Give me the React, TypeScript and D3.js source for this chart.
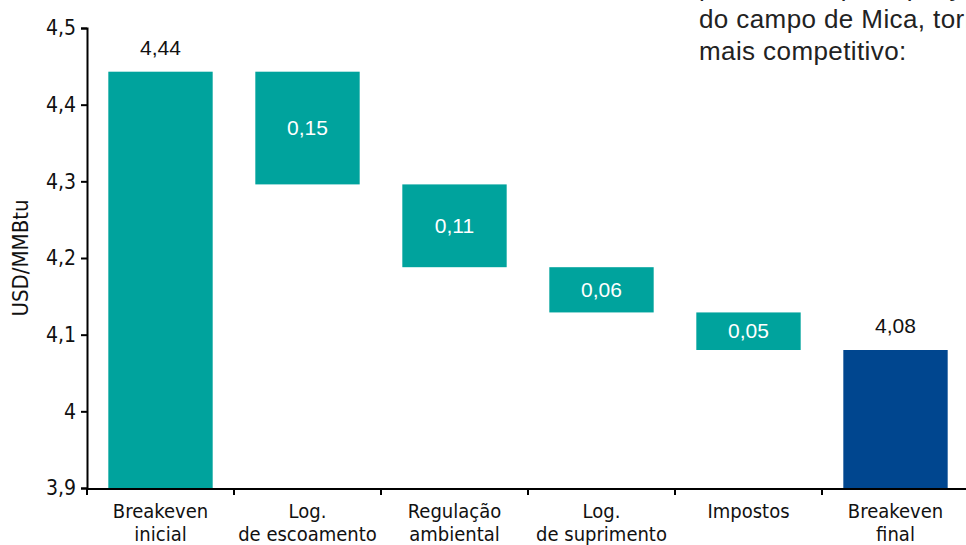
import React, { useEffect, useRef } from 'react';
import * as d3 from 'd3';

const categories = [
  ['Breakeven', 'inicial'],
  ['Log.', 'de escoamento'],
  ['Regulação', 'ambiental'],
  ['Log.', 'de suprimento'],
  ['Impostos', ''],
  ['Breakeven', 'final'],
];
const startValue = 4.443;
const reductions = [0.147, 0.108, 0.059, 0.049];
const endValue = 4.08;
const yTicks = [3.9, 4, 4.1, 4.2, 4.3, 4.4, 4.5];
const noteLines = ['permitindo que o preço de equilíbrio', 'do campo de Mica, tornando o gás', 'mais competitivo:'];

const teal = '#00a39d';
const navy = '#00468f';
const narrow = '"DejaVu Sans Condensed", "Liberation Sans Narrow", sans-serif';
const plain = '"Liberation Sans", Arial, sans-serif';

const fmt = (v: number) => v.toFixed(2).replace('.', ',').replace(/,?0+$/, '');

export default function App() {
  const svgRef = useRef<SVGSVGElement>(null);

  useEffect(() => {
    const width = 966;
    const height = 545;
    const svg = d3.select(svgRef.current).attr('width', width).attr('height', height);
    svg.selectAll('*').remove();

    const x = d3.scaleBand<number>().domain(d3.range(categories.length)).range([87, 969]).paddingInner(0.29).paddingOuter(0.145);
    const y = d3.scaleLinear().domain([3.9, 4.5]).range([488, 28]);

    // build waterfall segments
    const bars: { lo: number; hi: number; label: string; color: string; inside: boolean }[] = [];
    bars.push({ lo: 3.9, hi: startValue, label: fmt(startValue), color: teal, inside: false });
    let level = startValue;
    reductions.forEach(r => {
      bars.push({ lo: level - r, hi: level, label: r.toFixed(2).replace('.', ','), color: teal, inside: true });
      level -= r;
    });
    bars.push({ lo: 3.9, hi: endValue, label: fmt(endValue), color: navy, inside: false });

    svg.selectAll('rect.bar')
      .data(bars)
      .join('rect')
      .attr('class', 'bar')
      .attr('x', (d, i) => x(i)!)
      .attr('width', x.bandwidth())
      .attr('y', d => y(d.hi))
      .attr('height', d => y(d.lo) - y(d.hi))
      .attr('fill', d => d.color);

    svg.selectAll('text.val')
      .data(bars)
      .join('text')
      .attr('class', 'val')
      .attr('x', (d, i) => x(i)! + x.bandwidth() / 2)
      .attr('y', d => (d.inside ? (y(d.hi) + y(d.lo)) / 2 + 7 : y(d.hi) - 17))
      .attr('text-anchor', 'middle')
      .attr('font-family', plain)
      .attr('font-size', 21)
      .attr('fill', d => (d.inside ? '#fff' : '#111'))
      .text(d => d.label);

    // y axis
    const yAxis = d3.axisLeft(y).tickValues(yTicks).tickSize(6).tickFormat(d => String(d).replace('.', ','));
    const gy = svg.append('g').attr('transform', 'translate(87,0)').call(yAxis);
    gy.select('.domain').attr('stroke', '#000').attr('stroke-width', 2);
    gy.selectAll('.tick line').attr('stroke', '#000').attr('stroke-width', 2);
    gy.selectAll('.tick text').attr('font-family', narrow).attr('font-size', 21).attr('fill', '#111').attr('dx', -2);

    // x axis with ticks between categories
    const edges = d3.range(categories.length + 1).map(i => 87 + i * x.step());
    const gx = svg.append('g');
    gx.append('line').attr('x1', 87).attr('x2', 969).attr('y1', 489).attr('y2', 489).attr('stroke', '#000').attr('stroke-width', 2);
    gx.selectAll('line.t')
      .data(edges)
      .join('line')
      .attr('class', 't')
      .attr('x1', d => d).attr('x2', d => d)
      .attr('y1', 489).attr('y2', 495)
      .attr('stroke', '#000').attr('stroke-width', 2);
    categories.forEach((c, i) => {
      const cx = x(i)! + x.bandwidth() / 2;
      const t = gx.append('text')
        .attr('text-anchor', 'middle')
        .attr('font-family', narrow)
        .attr('font-size', 20)
        .attr('fill', '#111');
      t.append('tspan').attr('x', cx).attr('y', 518).text(c[0]);
      t.append('tspan').attr('x', cx).attr('y', 541).text(c[1]);
    });

    // y label
    svg.append('text')
      .attr('transform', 'translate(28,258) rotate(-90)')
      .attr('text-anchor', 'middle')
      .attr('font-family', narrow)
      .attr('font-size', 22)
      .attr('fill', '#111')
      .text('USD/MMBtu');

    // annotation text, partly outside the frame as in the source slide
    svg.selectAll('text.note')
      .data(noteLines)
      .join('text')
      .attr('class', 'note')
      .attr('x', 699)
      .attr('y', (d, i) => -4 + i * 32)
      .attr('font-family', plain)
      .attr('font-size', 26)
      .attr('letter-spacing', 0.4)
      .attr('fill', '#222')
      .text(d => d);
  }, []);

  return <svg ref={svgRef} style={{ position: 'absolute', left: 0, top: 0, display: 'block' }}></svg>;
}
